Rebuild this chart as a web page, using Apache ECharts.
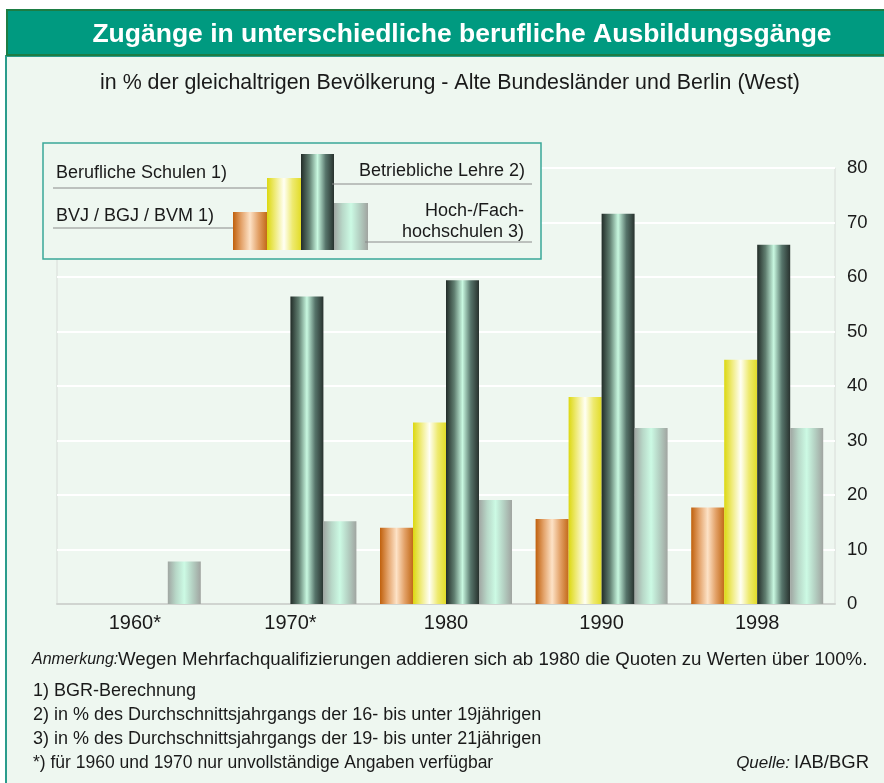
<!DOCTYPE html>
<html>
<head>
<meta charset="utf-8">
<script src="https://cdn.jsdelivr.net/npm/echarts@6/dist/echarts.min.js"></script>
<style>
  html, body { margin: 0; padding: 0; background: #ffffff; }
  #chart { width: 884px; height: 783px; }
</style>
</head>
<body>
<div id="chart"></div>
<script>
// Daten (in % der gleichaltrigen Bevölkerung)
const years = ["1960*", "1970*", "1980", "1990", "1998"];
const seriesNames = ["BVJ / BGJ / BVM 1)", "Berufliche Schulen 1)", "Betriebliche Lehre 2)", "Hoch-/Fachhochschulen 3)"];
const bvj = [0, 0, 14.0, 15.6, 17.7];
const berufSchulen = [0, 0, 33.3, 38.0, 44.8];
const lehre = [0, 56.4, 59.4, 71.6, 65.9];
const hochschulen = [7.8, 15.2, 19.1, 32.3, 32.3];
const yTicks = [0, 10, 20, 30, 40, 50, 60, 70, 80];

const bg = "#eef7f0";
const font = "Liberation Sans, Arial, sans-serif";

// Zylinder-Verläufe
function grad(stops) {
  return new echarts.graphic.LinearGradient(0, 0, 1, 0, stops.map((c, i) => ({ offset: i / (stops.length - 1), color: c })));
}
const colOrange = () => grad(["#c0600c", "#e4a46c", "#fde2c6", "#e2a066", "#c26a18"]);
const colYellow = () => grad(["#dcd810", "#f0ec80", "#fffff4", "#eeea70", "#e2dc28"]);
const colDark = () => grad(["#222c28", "#607e70", "#c8f8e0", "#56746a", "#28322e"]);
const colLight = () => grad(["#a0a6a2", "#b8d8c8", "#ccfae4", "#b4d0c2", "#a0a4a0"]);
const colorFns = [colOrange, colYellow, colDark, colLight];

const chart = echarts.init(document.getElementById("chart"));

const dataSets = [bvj, berufSchulen, lehre, hochschulen];

const txt = "#1a1a1a";
function note(x, y, text, style) {
  return { type: "text", x: x, y: y, style: Object.assign({ text: text, font: "18px " + font, fill: txt, textVerticalAlign: "middle" }, style || {}) };
}

const option = {
  animation: false,
  backgroundColor: "#ffffff",
  grid: {
    left: 57, right: 49, top: 168, bottom: 179,
    show: true, backgroundColor: bg, borderColor: "#d8dcd8", borderWidth: 1
  },
  xAxis: {
    type: "category",
    data: years,
    axisLine: { lineStyle: { color: "#d0d4d0", width: 2 } },
    axisTick: { show: false },
    axisLabel: { fontFamily: font, fontSize: 20, color: txt, margin: 9 }
  },
  yAxis: {
    type: "value",
    position: "right",
    min: yTicks[0], max: yTicks[yTicks.length - 1], interval: 10,
    axisLine: { show: false },
    axisTick: { show: false },
    axisLabel: { fontFamily: font, fontSize: 18.5, color: txt, margin: 12 },
    splitLine: { lineStyle: { color: "#ffffff", width: 2 } }
  },
  series: dataSets.map((d, i) => ({
    name: seriesNames[i],
    type: "bar",
    data: d,
    barWidth: 33,
    barGap: "0%",
    itemStyle: { color: colorFns[i]() }
  })),
  graphic: [
    // Rahmen
    { type: "rect", z: -10, shape: { x: 6, y: 56, width: 890, height: 740 }, style: { fill: bg, stroke: "#2a9c8c", lineWidth: 2 } },
    { type: "rect", z: 10, shape: { x: 7, y: 10, width: 890, height: 45 }, style: { fill: "#009a80", stroke: "#1d7d44", lineWidth: 2 } },
    { type: "text", z: 11, x: 462, y: 35, style: { text: "Zugänge in unterschiedliche berufliche Ausbildungsgänge", font: "bold 26.5px " + font, fill: "#ffffff", textAlign: "center", textVerticalAlign: "middle" } },
    { type: "text", z: 11, x: 450, y: 83, style: { text: "in % der gleichaltrigen Bevölkerung - Alte Bundesländer und Berlin (West)", font: "21.4px " + font, fill: txt, textAlign: "center", textVerticalAlign: "middle" } },

    // Legende
    { type: "rect", z: 20, shape: { x: 43, y: 143, width: 498, height: 116 }, style: { fill: bg, stroke: "#3aa898", lineWidth: 1.5 } },
    { type: "rect", z: 21, shape: { x: 233, y: 212, width: 34, height: 38 }, style: { fill: colOrange() } },
    { type: "rect", z: 21, shape: { x: 267, y: 178, width: 34, height: 72 }, style: { fill: colYellow() } },
    { type: "rect", z: 21, shape: { x: 301, y: 154, width: 33, height: 96 }, style: { fill: colDark() } },
    { type: "rect", z: 21, shape: { x: 334, y: 203, width: 34, height: 47 }, style: { fill: colLight() } },
    { type: "line", z: 21, shape: { x1: 53, y1: 188, x2: 267, y2: 188 }, style: { stroke: "#8a8a8a", lineWidth: 1 } },
    { type: "line", z: 21, shape: { x1: 53, y1: 228, x2: 233, y2: 228 }, style: { stroke: "#8a8a8a", lineWidth: 1 } },
    { type: "line", z: 22, shape: { x1: 332, y1: 184, x2: 532, y2: 184 }, style: { stroke: "#8a8a8a", lineWidth: 1 } },
    { type: "line", z: 21, shape: { x1: 365, y1: 242, x2: 532, y2: 242 }, style: { stroke: "#8a8a8a", lineWidth: 1 } },
    { type: "text", z: 22, x: 56, y: 173, style: { text: "Berufliche Schulen 1)", font: "18px " + font, fill: txt, textVerticalAlign: "middle" } },
    { type: "text", z: 22, x: 56, y: 216, style: { text: "BVJ / BGJ / BVM 1)", font: "18px " + font, fill: txt, textVerticalAlign: "middle" } },
    { type: "text", z: 22, x: 525, y: 171, style: { text: "Betriebliche Lehre 2)", font: "18px " + font, fill: txt, textAlign: "right", textVerticalAlign: "middle" } },
    { type: "text", z: 22, x: 524, y: 211, style: { text: "Hoch-/Fach-", font: "18px " + font, fill: txt, textAlign: "right", textVerticalAlign: "middle" } },
    { type: "text", z: 22, x: 524, y: 232, style: { text: "hochschulen 3)", font: "18px " + font, fill: txt, textAlign: "right", textVerticalAlign: "middle" } },

    // Fußnoten
    note(32, 660, "Anmerkung:", { font: "italic 16px " + font }),
    note(118, 660, "Wegen Mehrfachqualifizierungen addieren sich ab 1980 die Quoten zu Werten über 100%.", { font: "18.7px " + font }),
    note(33, 691, "1) BGR-Berechnung"),
    note(33, 715, "2) in % des Durchschnittsjahrgangs der 16- bis unter 19jährigen"),
    note(33, 739, "3) in % des Durchschnittsjahrgangs der 19- bis unter 21jährigen"),
    note(33, 763, "*) für 1960 und 1970 nur unvollständige Angaben verfügbar", { font: "17.5px " + font }),
    note(790, 763, "Quelle:", { font: "italic 17px " + font, textAlign: "right" }),
    note(794, 763, "IAB/BGR", { font: "18.5px " + font })
  ]
};

chart.setOption(option);
</script>
</body>
</html>
